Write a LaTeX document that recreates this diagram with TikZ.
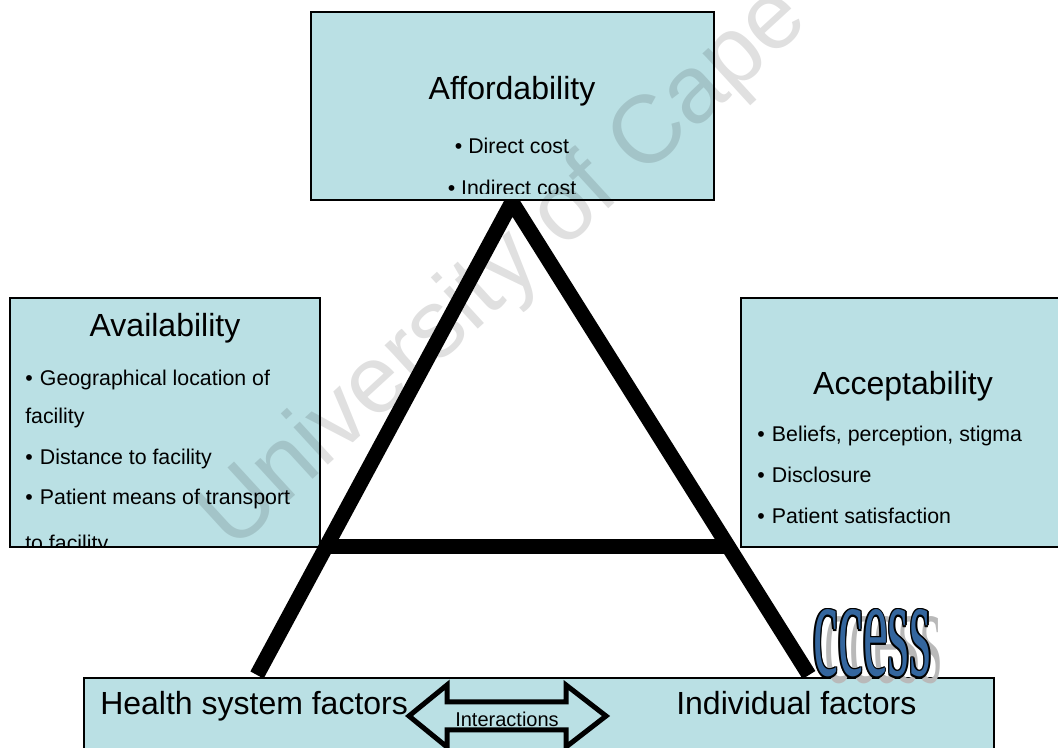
\documentclass[tikz,border=0pt]{standalone}
\usepackage{fontspec}
\setmainfont{Liberation Sans}
\newfontfamily\wafont{Liberation Serif}
\definecolor{boxfill}{RGB}{186,224,228}
\definecolor{wablue}{RGB}{52,102,158}
\definecolor{washadow}{RGB}{185,185,185}
\newcommand\bul{\makebox[11pt][l]{\textbullet}}
\newcommand\waword{\scalebox{0.40}[1]{\wafont\fontsize{105}{105}\selectfont ccess}}

\begin{document}

\begin{tikzpicture}[x=0.75pt,y=-0.75pt,
  box/.style={draw=black,line width=1.5pt,fill=boxfill,inner sep=0pt,rectangle},
  title/.style={anchor=base,inner sep=0pt,font=\fontsize{24}{24}\selectfont},
  item/.style={anchor=base west,inner sep=0pt,font=\fontsize{16}{16}\selectfont},
  citem/.style={anchor=base,inner sep=0pt,font=\fontsize{16}{16}\selectfont},
  bigtext/.style={anchor=base west,inner sep=0pt,font=\fontsize{24}{24}\selectfont},
  leg/.style={line width=11.25pt,line join=miter,line cap=butt},
  arrowshape/.style={draw=black,line width=3.75pt,line join=miter,fill=boxfill},
  waletter/.style={anchor=base west,inner sep=0pt},
  wmark/.style={anchor=base west,inner sep=0pt,text=black,text opacity=0.12,font=\fontsize{72}{72}\selectfont}
]
\clip (0,0) rectangle (1058,748);
\fill[white] (0,0) rectangle (1058,748);

% side boxes
\node[box,minimum width=232.5pt,minimum height=186.75pt] (avail) at (165,422.5) {};
\node[box,minimum width=246.75pt,minimum height=186.75pt] (accept) at (905.5,422.5) {};

\begin{scope}
\clip (10,298) rectangle (320,546.5);
\node[title] (availT) at (165,337) {Availability};
\node[item] (av1) at (25,386) {\bul Geographical location of};
\node[item] (av2) at (25,424) {facility};
\node[item] (av3) at (25,465) {\bul Distance to facility};
\node[item] (av4) at (25,505) {\bul Patient means of transport};
\node[item] (av5) at (25,551) {to facility};
\end{scope}

\node[title] (accT) at (903,395) {Acceptability};
\node[item] (ac1) at (757,441.5) {\bul Beliefs, perception, stigma};
\node[item] (ac2) at (757,483) {\bul Disclosure};
\node[item] (ac3) at (757,523.5) {\bul Patient satisfaction};

% bottom box
\node[box,minimum width=682.5pt,minimum height=69pt] (factors) at (539,724) {};
\node[bigtext] (hsf) at (100,715) {Health system factors};
\node[bigtext] (indf) at (676,715) {Individual factors};

% interactions double arrow
\draw[arrowshape] (409,716) coordinate (tipL) -- (447,685) -- (447,702) -- (566,702) -- (566,685)
  -- (606,716) coordinate (tipR) -- (566,747) -- (566,730) -- (447,730) -- (447,747) -- cycle;
\node[anchor=base,inner sep=0pt,font=\fontsize{15}{15}\selectfont] (inter) at (507,726) {Interactions};

% triangle "A"
\coordinate (apex) at (512,202);
\coordinate (footL) at (257,675);
\coordinate (footR) at (809,675);
\coordinate (barL) at (326.2,546.7);
\coordinate (barR) at (728.5,546.7);
\draw[leg] (footL) -- (apex) -- (footR);
\draw[leg] (barL) -- (barR);

% top box
\node[box,minimum width=302.25pt,minimum height=141pt] (aff) at (512.5,106) {};
\begin{scope}
\clip (311,12) rectangle (714,194);
\node[title] (affT) at (512,100) {Affordability};
\node[citem] (af1) at (512,154) {\textbullet\ Direct cost};
\node[citem] (af2) at (512,195.5) {\textbullet\ Indirect cost};
\end{scope}

% "ccess" word art
\node[waletter,text=washadow] (wsh) at (824,683) {\waword};
\foreach \dx/\dy in {-1.4/0,1.4/0,0/-1.4,0/1.4,-1/-1,1/1,-1/1,1/-1}
  \node[waletter,text=black] at (813+\dx,676+\dy) {\waword};
\node[waletter,text=wablue] (wa) at (813,676) {\waword};

% watermark
\node[wmark,rotate=42.5] (wm) at (233,553) {University of Cape Town};
\end{tikzpicture}

\end{document}
